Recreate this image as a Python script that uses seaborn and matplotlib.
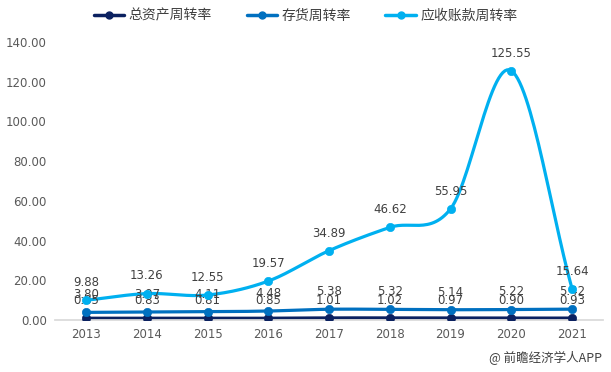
import numpy as np
import pandas as pd
import matplotlib
matplotlib.use("Agg")
import matplotlib.pyplot as plt
from matplotlib.lines import Line2D
import seaborn as sns

# 数据
years = ["2013", "2014", "2015", "2016", "2017", "2018", "2019", "2020", "2021"]
total_asset = [0.85, 0.83, 0.81, 0.85, 1.01, 1.02, 0.97, 0.90, 0.93]
inventory = [3.80, 3.97, 4.11, 4.48, 5.38, 5.32, 5.14, 5.22, 5.42]
receivable = [9.88, 13.26, 12.55, 19.57, 34.89, 46.62, 55.95, 125.55, 15.64]
series_names = ["总资产周转率", "存货周转率", "应收账款周转率"]
colors = ["#0b2160", "#0070c0", "#00b0f0"]

sns.set_theme(style="white")
plt.rcParams['font.family'] = ['Noto Sans CJK SC', 'DejaVu Sans']


def smooth(y, n=30):
    # Catmull-Rom 平滑曲线
    y = np.asarray(y, dtype=float)
    x = np.arange(len(y), dtype=float)
    px = np.concatenate([[2 * x[0] - x[1]], x, [2 * x[-1] - x[-2]]])
    py = np.concatenate([[2 * y[0] - y[1]], y, [2 * y[-1] - y[-2]]])
    xs, ys = [], []
    t = np.linspace(0, 1, n)
    for i in range(1, len(px) - 2):
        for p, out in ((px, xs), (py, ys)):
            p0, p1, p2, p3 = p[i - 1], p[i], p[i + 1], p[i + 2]
            out.append(0.5 * ((2 * p1) + (-p0 + p2) * t
                              + (2 * p0 - 5 * p1 + 4 * p2 - p3) * t ** 2
                              + (-p0 + 3 * p1 - 3 * p2 + p3) * t ** 3))
    return np.concatenate(xs), np.concatenate(ys)


fig = plt.figure(figsize=(6.11, 3.72), dpi=100)
ax = fig.add_axes([0.09, 0.14, 0.897, 0.747])

xpos = np.arange(len(years))
for vals, name, c in zip([total_asset, inventory, receivable], series_names, colors):
    sx, sy = smooth(vals)
    sns.lineplot(x=sx, y=sy, ax=ax, color=c, linewidth=2.3, sort=False)
    sns.scatterplot(x=xpos, y=vals, ax=ax, color=c, s=36, edgecolor=c, zorder=5)
    for xi, v in zip(xpos, vals):
        ax.annotate(f"{v:.2f}", (xi, v), xytext=(0, 8), textcoords="offset points",
                    ha="center", va="bottom", fontsize=8.5, color="#404040",
                    family=['DejaVu Sans'])

ax.set_xlim(-0.51, 8.51)
ax.set_ylim(0, 140)
ax.set_xticks(xpos)
ax.set_xticklabels(years)
ax.set_yticks(np.arange(0, 141, 20))
ax.set_yticklabels([f"{v:.2f}" for v in np.arange(0, 141, 20)])
ax.tick_params(axis="both", labelsize=8.5, labelcolor="#595959", length=0, pad=6)
for lab in ax.get_xticklabels() + ax.get_yticklabels():
    lab.set_family('DejaVu Sans')
for s in ["top", "right", "left"]:
    ax.spines[s].set_visible(False)
ax.spines["bottom"].set_color("#d9d9d9")

handles = [Line2D([0], [0], color=c, lw=2.5, marker="o", markersize=5) for c in colors]
fig.legend(handles, series_names, loc="upper center", bbox_to_anchor=(0.5, 1.01),
           ncol=3, frameon=False, fontsize=10, handlelength=2.2, columnspacing=2.5,
           handletextpad=0.3, labelcolor="#404040")

fig.text(0.985, 0.02, "@ 前瞻经济学人APP", ha="right", va="bottom", fontsize=9, color="#404040")

fig.savefig("out.png", dpi=100)
